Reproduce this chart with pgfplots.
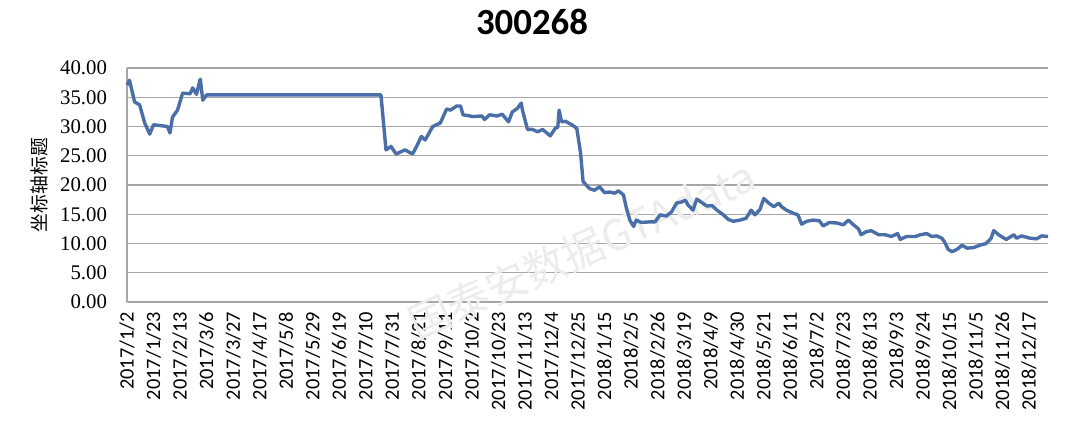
\documentclass[border=0pt]{standalone}
\usepackage{fontspec}
\setmainfont{Carlito}
\newfontfamily\serif{Liberation Serif}
\newfontfamily\cjk{Noto Sans CJK SC}
\usepackage{pgfplots}
\pgfplotsset{compat=1.18}
\definecolor{linecol}{HTML}{4A6FA8}
\definecolor{gridcol}{HTML}{A6A6A6}

\begin{document}
\begin{tikzpicture}
\begin{axis}[
    scale only axis,
    width=460.5pt,
    height=117pt,
    xmin=0, xmax=729,
    ymin=0, ymax=40,
    ytick={0,5,...,40},
    xtick={0,21,...,714},
    xticklabels={2017/1/2,2017/1/23,2017/2/13,2017/3/6,2017/3/27,2017/4/17,2017/5/8,2017/5/29,2017/6/19,2017/7/10,2017/7/31,2017/8/21,2017/9/11,2017/10/2,2017/10/23,2017/11/13,2017/12/4,2017/12/25,2018/1/15,2018/2/5,2018/2/26,2018/3/19,2018/4/9,2018/4/30,2018/5/21,2018/6/11,2018/7/2,2018/7/23,2018/8/13,2018/9/3,2018/9/24,2018/10/15,2018/11/5,2018/11/26,2018/12/17},
    axis x line=bottom,
    axis y line=left,
    axis line style={gridcol, line width=0.7pt, -},
    major tick length=0pt,
    ymajorgrids,
    grid style={gridcol, line width=0.7pt},
    /pgf/number format/assume math mode=true,
    yticklabel={\pgfmathprintnumber[fixed,fixed zerofill,precision=2]{\tick}},
    yticklabel style={font=\serif\fontsize{10.4}{12}\selectfont, xshift=-6.5pt},
    xticklabel style={font=\fontsize{10.2}{12}\selectfont, rotate=90, anchor=east, xshift=-1.5pt},
    ylabel={\cjk 坐标轴标题},
    ylabel style={font=\fontsize{9.4}{11}\selectfont, yshift=-1pt},
    clip=false,
]
% watermark
\node[rotate=24, text=gray!15, font=\cjk\fontsize{21}{24}\selectfont] at (axis cs:360,8.9) {国泰安数据GTAdata};
\addplot[linecol, line width=1.7pt, line join=round] coordinates {
(0,37.1)(2,37.9)(6,34.2)(10,33.7)(14,30.6)(18,28.7)(21,30.3)(25,30.2)(32,30.0)(34,28.9)(36,31.6)(40,32.8)(44,35.7)(50,35.6)(52,36.6)(55,35.5)(58,38.1)(60,34.5)(63,35.4)
(201,35.4)(205,26.0)(209,26.6)(213,25.3)(220,26.0)(226,25.3)(229,26.5)(233,28.3)(236,27.7)(242,30.0)(248,30.6)(253,33.0)(256,32.8)(261,33.5)(264,33.5)(266,32.0)(274,31.7)(281,31.8)(283,31.2)(287,32.0)(293,31.8)(297,32.1)(302,30.8)(305,32.5)(309,33.1)(312,34.0)(313,32.8)(317,29.5)(321,29.5)(325,29.1)(329,29.5)(335,28.4)(339,29.7)(341,29.9)(342,32.8)(344,30.8)(347,30.9)(352,30.3)(356,29.7)(359,25.5)(361,20.6)
(366,19.4)(370,19.1)(374,19.7)(378,18.7)(382,18.8)(386,18.6)(389,19.0)(393,18.3)(395,16.3)(398,14.0)(401,12.9)(403,14.0)(407,13.6)(414,13.7)(418,13.7)(422,14.9)(427,14.7)(431,15.4)(435,16.9)(439,17.1)(442,17.4)(444,16.6)(448,15.7)(451,17.6)(455,17.0)(459,16.4)(463,16.5)(467,15.7)(472,14.9)(476,14.1)(480,13.8)(485,14.0)(490,14.3)(494,15.7)(497,14.9)(501,15.8)(504,17.7)(508,16.9)(512,16.3)(516,16.9)(518,16.3)(522,15.7)(527,15.2)(531,14.9)(534,13.3)(538,13.8)(543,14.0)(548,13.9)(551,13.0)(556,13.6)(562,13.5)(567,13.2)(571,14.0)(575,13.2)(579,12.5)(581,11.5)(585,12.0)(589,12.2)(595,11.5)(600,11.5)(605,11.2)(610,11.7)(612,10.7)(617,11.2)(624,11.2)(628,11.5)(633,11.7)(637,11.2)(641,11.3)(645,10.9)(647,10.3)(650,9.0)(653,8.6)(657,9.0)(661,9.7)(665,9.2)(670,9.3)(675,9.7)(680,10.0)(684,10.9)(686,12.2)(690,11.5)(692,11.2)(696,10.7)(702,11.5)(704,10.9)(708,11.3)(715,10.9)(720,10.8)(724,11.3)(729,11.2)
};
\end{axis}
\node[font=\bfseries\fontsize{18.4}{20}\selectfont] at ([xshift=202.5pt, yshift=23pt]current axis.north west) {300268};
\path[use as bounding box] ([xshift=-63.5pt, yshift=-64pt]current axis.south west) rectangle ++(540pt,215pt);
\end{tikzpicture}
\end{document}
